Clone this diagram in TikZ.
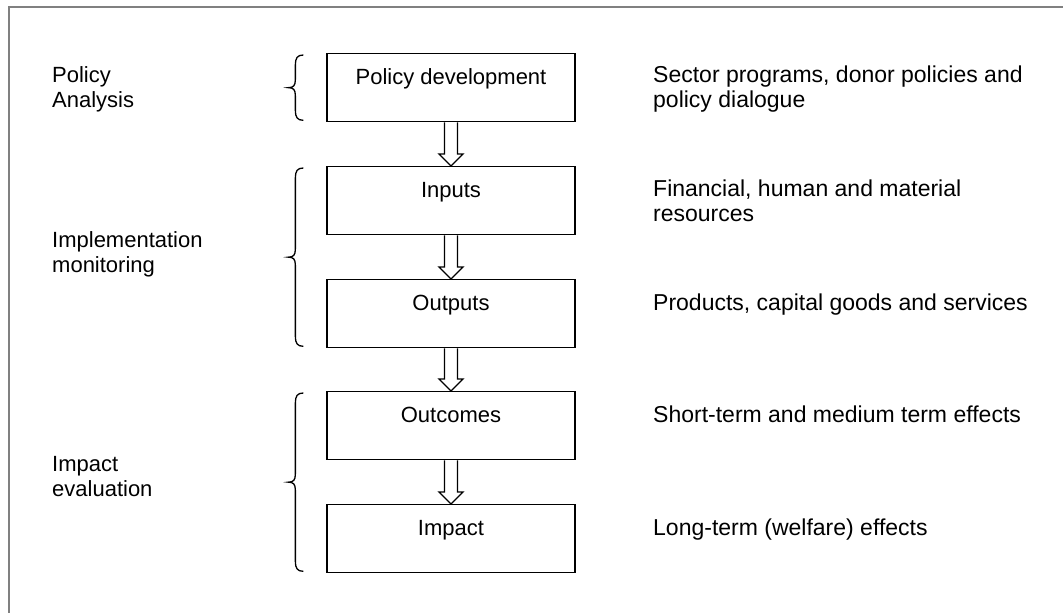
\documentclass[tikz,border=0pt]{standalone}
\usepackage{fontspec}
\setmainfont{Liberation Sans}
\usetikzlibrary{calc}
\begin{document}
\begin{tikzpicture}[x=1pt,y=-1pt,
  stage/.style={draw=black,line width=1.3pt,minimum width=248pt,minimum height=68pt,
    inner xsep=4pt,inner ysep=15pt,text height=16pt,text depth=22pt,anchor=north,
    font=\fontsize{22}{24}\selectfont},
  note/.style={anchor=base west,align=left,inner sep=0pt,font=\fontsize{22}{24.5}\selectfont},
  desc/.style={note,font=\fontsize{23}{24.5}\selectfont},
  blk/.style={draw=black,line width=1.3pt,fill=white,line join=miter},
  brc/.style={draw=black,line width=1.3pt},
  frame/.style={draw=black!50,line width=2pt}]
\useasboundingbox (0,0) rectangle (1063,613);
\draw[frame] (9,613) -- (9,7) -- (1063,7);

% stages of the chain
\node[stage] (pd)  at (451,53)  {Policy development};
\node[stage] (in)  at (451,166) {Inputs};
\node[stage] (out) at (451,279) {Outputs};
\node[stage] (oc)  at (451,391) {Outcomes};
\node[stage] (im)  at (451,504) {Impact};

% hollow block arrows between consecutive stages
\newcommand\blockarrow[2]{%
  \draw[blk] ($(#1.south)+(-6.5,0)$) -- ($(#2.north)+(-6.5,-12)$) -- ($(#2.north)+(-12,-12)$)
    -- (#2.north) -- ($(#2.north)+(12,-12)$) -- ($(#2.north)+(6.5,-12)$) -- ($(#1.south)+(6.5,0)$);}
\blockarrow{pd}{in}
\blockarrow{in}{out}
\blockarrow{out}{oc}
\blockarrow{oc}{im}

% curly braces grouping the stages (let-coordinates are in pt, y pointing up)
\newcommand\leftbrace[2]{%
  \draw[brc] let \p1=(#1.north west), \p2=(#2.south west), \n1={(\y1+\y2)/2} in
    (\x1-23,\y1-2) .. controls (\x1-29,\y1-2) and (\x1-31,\y1-5) .. (\x1-31,\y1-12)
    -- (\x1-31,\n1+8) .. controls (\x1-31,\n1+2) and (\x1-33,\n1) .. (\x1-38,\n1)
    .. controls (\x1-33,\n1) and (\x1-31,\n1-2) .. (\x1-31,\n1-8)
    -- (\x1-31,\y2+12) .. controls (\x1-31,\y2+5) and (\x1-29,\y2+2) .. (\x1-23,\y2+2);}
\leftbrace{pd}{pd}
\leftbrace{in}{out}
\leftbrace{oc}{im}

% phase labels (anchored at the baseline of the last line)
\node[note] (pa) at (52,107)  {Policy\\Analysis};
\node[note] (imo) at (52,272) {Implementation\\monitoring};
\node[note] (iev) at (52,496) {Impact\\evaluation};

% descriptions
\node[desc] (d1) at (653,107) {Sector programs, donor policies and\\policy dialogue};
\node[desc] (d2) at (653,221) {Financial, human and material\\resources};
\node[desc] (d3) at (653,310) {Products, capital goods and services};
\node[desc] (d4) at (653,422) {Short-term and medium term effects};
\node[desc] (d5) at (653,535) {Long-term (welfare) effects};
\end{tikzpicture}
\end{document}
